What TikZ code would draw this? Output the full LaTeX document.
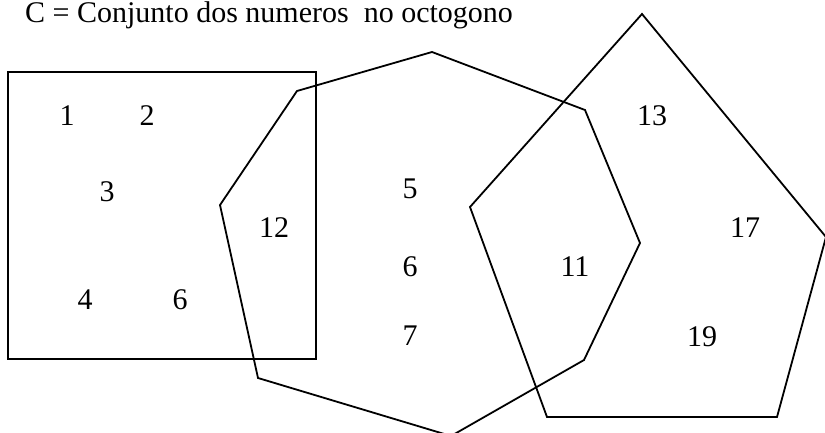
\documentclass[tikz,border=0pt]{standalone}
\usepackage{fontspec}
\setmainfont{Liberation Serif}
\begin{document}
\begin{tikzpicture}[x=1pt,y=-1pt,
  shape line/.style={line width=1.8pt, line join=miter},
  num/.style={anchor=base, inner sep=0pt, font=\fontsize{30}{36}\selectfont}]
\useasboundingbox (0,0) rectangle (825,433);
% title
\node[num, anchor=base west] (title) at (25,23) {C = Conjunto dos numeros\ \ no octogono};
% square
\draw[shape line] (8,72) rectangle (316,359);
% octagon
\draw[shape line] (432,52) -- (297,91) -- (220,205) -- (258,378) -- (451,436)
  -- (584,360) -- (640,243) -- (585,110) -- cycle;
% pentagon
\draw[shape line] (642,14) -- (826,237) -- (777,417) -- (547,417) -- (470,207) -- cycle;
% numbers
\node[num] (n1) at (67,125.5) {1};
\node[num] (n2) at (147,125.5) {2};
\node[num] (n3) at (107,201) {3};
\node[num] (n4) at (85,309) {4};
\node[num] (n6a) at (180,309) {6};
\node[num] (n12) at (274,237) {12};
\node[num] (n5) at (410,199) {5};
\node[num] (n6b) at (410,276) {6};
\node[num] (n7) at (410,345) {7};
\node[num] (n11) at (575,276) {11};
\node[num] (n13) at (652,125.5) {13};
\node[num] (n17) at (745,237) {17};
\node[num] (n19) at (702,346) {19};
\end{tikzpicture}
\end{document}
